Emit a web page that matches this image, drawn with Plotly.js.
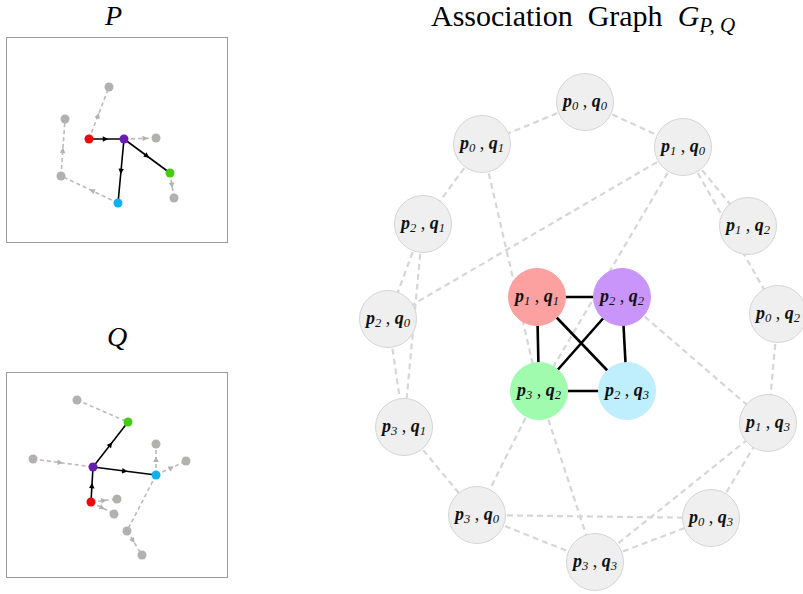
<!DOCTYPE html>
<html>
<head>
<meta charset="utf-8">
<script src="https://cdn.plot.ly/plotly-3.0.1.min.js"></script>
<style>html,body{margin:0;padding:0;background:#fff}#chart{width:803px;height:594px}</style>
</head>
<body>
<div id="chart"></div>
<script>
// ---------------- Graph P ----------------
const pNodeIds = ['r','v','g','c','A','B','C','D','E'];
const pNodeX   = [-28, 7, 53, 1, -8, -52, 39, -56, 57];
const pNodeY   = [1, 1, -33, -63, 53, 21, 2, -36, -58];
const pNodeKind= ['red','purple','green','cyan','gray','gray','gray','gray','gray'];
const pSolid   = [['r','v'],['v','g'],['v','c']];
const pDashed  = [['r','A'],['v','C'],['g','E'],['c','D'],['D','B']];
const pArrowT  = {'r-v':0.55,'v-g':0.55,'v-c':0.55,'r-A':0.5,'v-C':0.75,'g-E':0.6,'c-D':0.5,'D-B':0.5};

// ---------------- Graph Q ----------------
const qNodeIds = ['g','v','c','r','g1','g2','g3','g4','g5','g6','g7','g8'];
const qNodeX   = [11, -24, 39, -26, -40, -84, 39, 69, 0, -3, 10, 25];
const qNodeY   = [53, 8, 0, -27, 75, 16, 31, 14, -24, -39, -56, -80];
const qNodeKind= ['green','purple','cyan','red','gray','gray','gray','gray','gray','gray','gray','gray'];
const qSolid   = [['r','v'],['v','g'],['v','c']];
const qDashed  = [['g1','g'],['g2','v'],['c','g3'],['c','g4'],['r','g5'],['r','g6'],['c','g7'],['g7','g8']];
const qArrowT  = {'r-v':0.55,'v-g':0.55,'v-c':0.55,'g2-v':0.5,'c-g3':0.6,'c-g4':0.6,'r-g5':0.6,'r-g6':0.6,'g7-g8':0.5};

// ---------------- Association graph ----------------
const assocP = [0,0,1,2,1,2,0,1,2,3,2,3,1,3,0,3];
const assocQ = [0,1,0,1,2,0,2,1,2,2,3,1,3,0,3,3];
const assocX = [2,-101,100,-160,165,-195,195,-46,39,-44,44,-179,185,-106,128,12];
const assocY = [228,186,183,106,104,11,16,33,33,-61,-61,-97,-93,-185,-188,-232];
const matchedColor = {'p1q1':'#fca0a0','p2q2':'#c995fb','p3q2':'#a0fbae','p2q3':'#bfeefc'};
const assocSolid = [['p1q1','p2q2'],['p1q1','p3q2'],['p1q1','p2q3'],['p2q2','p3q2'],['p2q2','p2q3'],['p3q2','p2q3']];
const assocDashed = [
  ['p0q0','p0q1'],['p0q0','p1q0'],['p0q1','p2q1'],['p0q1','p3q2'],['p1q0','p2q0'],['p1q0','p3q2'],
  ['p1q0','p1q2'],['p1q0','p0q2'],['p2q1','p2q0'],['p2q1','p3q1'],['p2q0','p3q1'],['p0q2','p1q3'],
  ['p2q2','p1q3'],['p3q1','p3q0'],['p3q2','p3q0'],['p3q2','p3q3'],['p3q0','p0q3'],['p3q0','p3q3'],
  ['p3q3','p0q3'],['p3q3','p1q3'],['p0q3','p1q3']
];

const kindColor = {red:'#ee0a0a', purple:'#6a1db3', green:'#45cc12', cyan:'#12b0ec', gray:'#b3b0b0'};

const traces = [];
const annotations = [];

function segs(ids, xs, ys, pairs){
  const X=[],Y=[];
  pairs.forEach(([a,b])=>{
    const i=ids.indexOf(a), j=ids.indexOf(b);
    X.push(xs[i],xs[j],null); Y.push(ys[i],ys[j],null);
  });
  return {X,Y};
}

function panel(ids, xs, ys, kinds, solid, dashed, arrowT, xa, ya){
  const d = segs(ids,xs,ys,dashed);
  traces.push({type:'scatter',mode:'lines',x:d.X,y:d.Y,xaxis:xa,yaxis:ya,hoverinfo:'skip',
    line:{color:'#bcb9b9',width:1.6,dash:'4px,3px'}});
  const s = segs(ids,xs,ys,solid);
  traces.push({type:'scatter',mode:'lines',x:s.X,y:s.Y,xaxis:xa,yaxis:ya,hoverinfo:'skip',
    line:{color:'#000',width:1.6}});
  traces.push({type:'scatter',mode:'markers',x:xs,y:ys,xaxis:xa,yaxis:ya,hoverinfo:'skip',
    marker:{size:9,color:kinds.map(k=>kindColor[k]),line:{width:0}}});
  const all = solid.map(p=>[p,true]).concat(dashed.map(p=>[p,false]));
  all.forEach(([[a,b],isSolid])=>{
    const t = arrowT[a+'-'+b]; if(t===undefined) return;
    const i=ids.indexOf(a), j=ids.indexOf(b);
    const dx=xs[j]-xs[i], dy=ys[j]-ys[i], L=Math.hypot(dx,dy);
    const ux=dx/L, uy=dy/L;
    annotations.push({xref:xa,yref:ya,x:xs[i]+dx*t,y:ys[i]+dy*t,ax:-ux*4,ay:uy*4,
      text:'',showarrow:true,arrowhead:2,arrowsize:1.0,arrowwidth:1.1,
      arrowcolor:isSolid?'#000':'#b3b0b0',standoff:0,startstandoff:0});
  });
}

panel(pNodeIds,pNodeX,pNodeY,pNodeKind,pSolid,pDashed,pArrowT,'x2','y2');
panel(qNodeIds,qNodeX,qNodeY,qNodeKind,qSolid,qDashed,qArrowT,'x3','y3');

const assocIds = assocP.map((p,i)=>'p'+p+'q'+assocQ[i]);
const ad = segs(assocIds,assocX,assocY,assocDashed);
traces.push({type:'scatter',mode:'lines',x:ad.X,y:ad.Y,xaxis:'x',yaxis:'y',hoverinfo:'skip',
  line:{color:'#d6d6d6',width:2.2,dash:'6px,4px'}});
const as = segs(assocIds,assocX,assocY,assocSolid);
traces.push({type:'scatter',mode:'lines',x:as.X,y:as.Y,xaxis:'x',yaxis:'y',hoverinfo:'skip',
  line:{color:'#000',width:2.6}});
traces.push({type:'scatter',mode:'markers+text',x:assocX,y:assocY,xaxis:'x',yaxis:'y',hoverinfo:'skip',
  marker:{size:57,color:assocIds.map(id=>matchedColor[id]||'#efefef'),
    line:{color:assocIds.map(id=>matchedColor[id]||'#d5d5d5'),width:1}},
  text:assocP.map((p,i)=>'<b><i>p</i></b><sub><i>'+p+'</i></sub> , <b><i>q</i></b><sub><i>'+assocQ[i]+'</i></sub>'),
  textposition:'middle center',
  textfont:{family:'Liberation Serif, serif',size:18,color:'#111'}});

// titles
const titleFont = {family:'Liberation Serif, serif',size:28,color:'#000'};
annotations.push({xref:'paper',yref:'paper',x:113/803,y:1-16/594,text:'<i>P</i>',showarrow:false,font:titleFont,xanchor:'center',yanchor:'middle'});
annotations.push({xref:'paper',yref:'paper',x:117/803,y:1-336/594,text:'<i>Q</i>',showarrow:false,font:titleFont,xanchor:'center',yanchor:'middle'});
annotations.push({xref:'paper',yref:'paper',x:583/803,y:1-18/594,text:'Association  Graph  <i>G</i><sub><i>P, Q</i></sub>',showarrow:false,
  font:{family:'Liberation Serif, serif',size:30,color:'#000'},xanchor:'center',yanchor:'middle'});

const boxAxis = {showline:true,mirror:true,linecolor:'#9a9a9a',linewidth:1.2,showgrid:false,zeroline:false,
  showticklabels:false,ticks:'',fixedrange:true};
const layout = {
  width:803,height:594,margin:{l:0,r:0,t:0,b:0},paper_bgcolor:'#fff',plot_bgcolor:'rgba(0,0,0,0)',
  showlegend:false,
  xaxis:{domain:[337/803,1],range:[-246,220],visible:false,fixedrange:true},
  yaxis:{domain:[0,1],range:[-264,330],visible:false,fixedrange:true},
  xaxis2:Object.assign({domain:[7/803,227/803],range:[-110,110],anchor:'y2'},boxAxis),
  yaxis2:Object.assign({domain:[1-242/594,1-38/594],range:[-102,102],anchor:'x2'},boxAxis),
  xaxis3:Object.assign({domain:[7/803,227/803],range:[-110,110],anchor:'y3'},boxAxis),
  yaxis3:Object.assign({domain:[1-577/594,1-373/594],range:[-102,102],anchor:'x3'},boxAxis),
  annotations:annotations
};
Plotly.newPlot('chart',traces,layout,{displayModeBar:false,staticPlot:true});
</script>
</body>
</html>
